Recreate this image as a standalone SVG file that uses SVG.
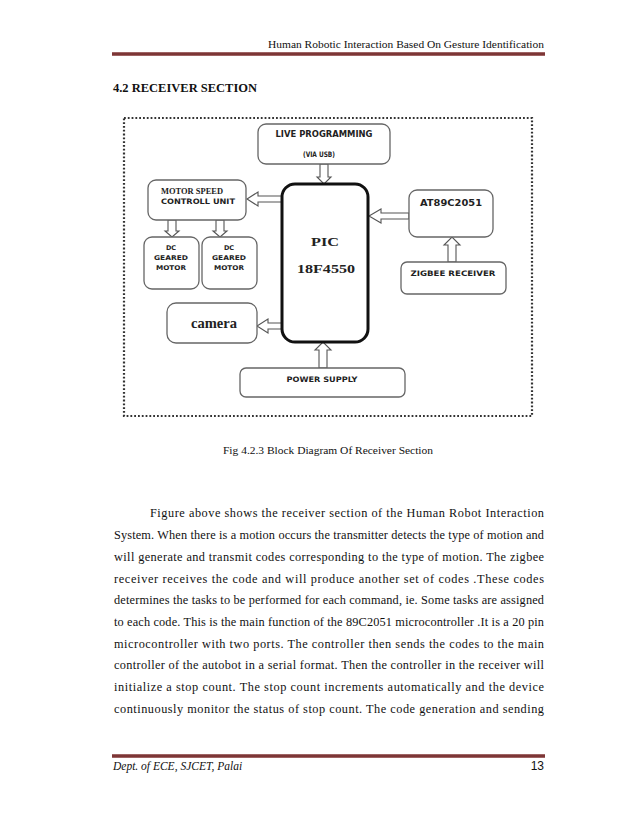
<svg xmlns="http://www.w3.org/2000/svg" width="638" height="826" viewBox="0 0 638 826">
<defs>
<linearGradient id="rule" x1="0" y1="0" x2="0" y2="1">
<stop offset="0" stop-color="#b07a7a"/>
<stop offset="0.5" stop-color="#6b1f1f"/>
<stop offset="1" stop-color="#b07a7a"/>
</linearGradient>
<style>
.hdr{font-family:"Liberation Serif","Times New Roman",serif;font-size:11px;fill:#111}
.head{font-family:"Liberation Serif","Times New Roman",serif;font-size:13px;font-weight:bold;fill:#111}
.body{font-family:"Liberation Serif","Times New Roman",serif;font-size:12.3px;fill:#111}
.cap{font-family:"Liberation Serif","Times New Roman",serif;font-size:11px;fill:#111}
.foot{font-family:"Liberation Serif","Times New Roman",serif;font-size:11.5px;font-style:italic;fill:#111}
.pg{font-family:"Liberation Sans",Arial,sans-serif;font-size:12px;fill:#111}
.box{fill:#fff;stroke:#666;stroke-width:1.3}
.pic{fill:#fff;stroke:#111;stroke-width:3}
.frame{fill:none;stroke:#333;stroke-width:2.2;stroke-dasharray:1.8 2}
.lbl{font-family:"DejaVu Sans",Verdana,sans-serif;font-weight:bold;fill:#222;text-anchor:middle}
.slbl{font-family:"Liberation Serif","Times New Roman",serif;font-weight:bold;fill:#222;text-anchor:middle}
.arr{fill:#fff;stroke:#555;stroke-width:1.1;stroke-linejoin:miter}
</style>
</defs>

<!-- page header -->
<text class="hdr" x="544" y="48" text-anchor="end" textLength="276" lengthAdjust="spacingAndGlyphs">Human Robotic Interaction Based On Gesture Identification</text>
<rect x="112" y="52" width="433" height="4" fill="url(#rule)"/>
<text class="head" x="113" y="92" textLength="144" lengthAdjust="spacingAndGlyphs">4.2 RECEIVER SECTION</text>

<!-- diagram frame -->
<rect class="frame" x="124" y="118" width="408" height="298"/>

<g id="connectors">
<!-- live programming -> PIC -->
<polygon class="arr" points="320,164 328,164 328,177 331,177 324,184 317,177 320,177"/>
<!-- PIC -> motor speed -->
<polygon class="arr" points="282,196 258,196 258,192 247,199 258,206 258,202 282,202"/>
<!-- motor speed -> DC motors -->
<polygon class="arr" points="168,220 176,220 176,231 179,231 172,237 165,231 168,231"/>
<polygon class="arr" points="216,220 224,220 224,231 227,231 220,237 213,231 216,231"/>
<!-- AT89C2051 -> PIC -->
<polygon class="arr" points="409,213 381,213 381,209 369,216 381,223 381,219 409,219"/>
<!-- zigbee -> AT89C2051 -->
<polygon class="arr" points="448,262 456,262 456,245 460,245 452,237 444,245 448,245"/>
<!-- PIC -> camera -->
<polygon class="arr" points="282,323 268,323 268,319 257,326 268,333 268,329 282,329"/>
<!-- power supply -> PIC -->
<polygon class="arr" points="319,368 327,368 327,350 331,350 323,342 315,350 319,350"/>
</g>

<g id="live">
<rect class="box" x="258" y="124" width="132" height="40" rx="8"/>
<text class="lbl" x="324" y="137" font-size="8" textLength="97" lengthAdjust="spacingAndGlyphs">LIVE PROGRAMMING</text>
<text class="lbl" x="319" y="157" font-size="7.5" textLength="32" lengthAdjust="spacingAndGlyphs">(VIA USB)</text>
</g>

<g id="pic">
<rect class="pic" x="282" y="184" width="86" height="158" rx="13"/>
<text class="slbl" x="325" y="246" font-size="13.5" textLength="28" lengthAdjust="spacingAndGlyphs">PIC</text>
<text class="slbl" x="326" y="273" font-size="13.5" textLength="58" lengthAdjust="spacingAndGlyphs">18F4550</text>
</g>

<g id="motorspeed">
<rect class="box" x="148" y="180" width="98" height="40" rx="8"/>
<text class="slbl" x="192" y="194" font-size="8.5" textLength="62" lengthAdjust="spacingAndGlyphs">MOTOR SPEED</text>
<text class="lbl" x="198" y="204" font-size="7.5" textLength="74" lengthAdjust="spacingAndGlyphs">CONTROLL UNIT</text>
</g>

<g id="dc1">
<rect class="box" x="144" y="237" width="55" height="52" rx="8"/>
<text class="lbl" x="171" y="250" font-size="6.5">DC</text>
<text class="lbl" x="171" y="260" font-size="6.5" textLength="34" lengthAdjust="spacingAndGlyphs">GEARED</text>
<text class="lbl" x="171" y="270" font-size="6.5" textLength="30" lengthAdjust="spacingAndGlyphs">MOTOR</text>
</g>

<g id="dc2">
<rect class="box" x="202" y="237" width="55" height="52" rx="8"/>
<text class="lbl" x="229" y="250" font-size="6.5">DC</text>
<text class="lbl" x="229" y="260" font-size="6.5" textLength="34" lengthAdjust="spacingAndGlyphs">GEARED</text>
<text class="lbl" x="229" y="270" font-size="6.5" textLength="30" lengthAdjust="spacingAndGlyphs">MOTOR</text>
</g>

<g id="at89">
<rect class="box" x="409" y="190" width="84" height="47" rx="8"/>
<text class="lbl" x="451" y="206" font-size="8" textLength="62" lengthAdjust="spacingAndGlyphs">AT89C2051</text>
</g>

<g id="zigbee">
<rect class="box" x="401" y="262" width="105" height="32" rx="6"/>
<text class="lbl" x="453" y="276" font-size="7.5" textLength="85" lengthAdjust="spacingAndGlyphs">ZIGBEE RECEIVER</text>
</g>

<g id="camera">
<rect class="box" x="167" y="303" width="90" height="40" rx="9"/>
<text class="slbl" x="214" y="328" font-size="15" textLength="46" lengthAdjust="spacingAndGlyphs">camera</text>
</g>

<g id="power">
<rect class="box" x="240" y="368" width="165" height="29" rx="6"/>
<text class="lbl" x="322" y="382" font-size="7.5" textLength="71" lengthAdjust="spacingAndGlyphs">POWER SUPPLY</text>
</g>

<!-- caption -->
<text class="cap" x="328" y="454" text-anchor="middle" textLength="210" lengthAdjust="spacingAndGlyphs">Fig 4.2.3 Block Diagram Of Receiver Section</text>

<!-- body paragraph -->
<text class="body" x="150" y="517" textLength="394" lengthAdjust="spacing">Figure above shows the receiver section of the Human Robot Interaction</text>
<text class="body" x="114" y="539" textLength="430" lengthAdjust="spacing">System. When there is a motion occurs the transmitter detects the type of motion and</text>
<text class="body" x="114" y="561" textLength="430" lengthAdjust="spacing">will generate and transmit codes corresponding to the type of motion. The zigbee</text>
<text class="body" x="114" y="583" textLength="430" lengthAdjust="spacing">receiver receives the code and will produce another set of codes .These codes</text>
<text class="body" x="114" y="604" textLength="430" lengthAdjust="spacing">determines the tasks to be performed for each command, ie. Some tasks are assigned</text>
<text class="body" x="114" y="626" textLength="430" lengthAdjust="spacing">to each code. This is the main function of the 89C2051 microcontroller .It is a 20 pin</text>
<text class="body" x="114" y="648" textLength="430" lengthAdjust="spacing">microcontroller with two ports. The controller then sends the codes to the main</text>
<text class="body" x="114" y="669" textLength="430" lengthAdjust="spacing">controller of the autobot in a serial format. Then the controller in the receiver will</text>
<text class="body" x="114" y="691" textLength="430" lengthAdjust="spacing">initialize a stop count. The stop count increments automatically and the device</text>
<text class="body" x="114" y="713" textLength="430" lengthAdjust="spacing">continuously monitor the status of stop count. The code generation and sending</text>

<!-- footer -->
<rect x="112" y="754" width="433" height="4" fill="url(#rule)"/>
<text class="foot" x="113" y="770">Dept. of ECE, SJCET, Palai</text>
<text class="pg" x="544" y="770" text-anchor="end">13</text>
</svg>
